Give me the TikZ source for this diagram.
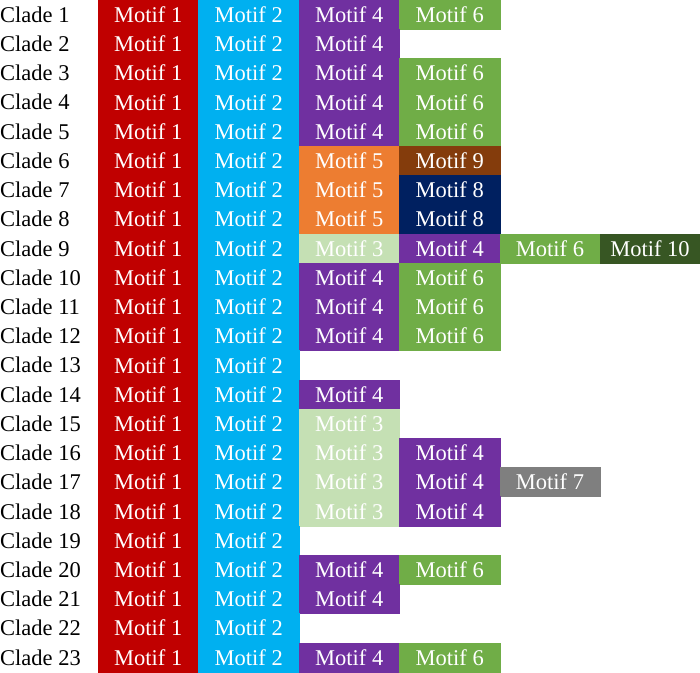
\documentclass[tikz,border=0pt]{standalone}
\usepackage{fontspec}
\setmainfont{Liberation Serif}
\definecolor{m1}{HTML}{C00000}
\definecolor{m2}{HTML}{00B0F0}
\definecolor{m3}{HTML}{C5E0B4}
\definecolor{m4}{HTML}{7030A0}
\definecolor{m5}{HTML}{ED7D31}
\definecolor{m6}{HTML}{70AD47}
\definecolor{m7}{HTML}{7F7F7F}
\definecolor{m8}{HTML}{002060}
\definecolor{m9}{HTML}{843C0C}
\definecolor{m10}{HTML}{375623}
\begin{document}
\begin{tikzpicture}[x=1pt,y=-1pt,
  motifcell/.style={rectangle, inner sep=0pt, text=white, line width=0.4pt,
    font=\fontsize{22.5}{25}\selectfont},
  cladelabel/.style={anchor=west, inner sep=0pt, text=black,
    font=\fontsize{22.5}{25}\selectfont}]
\useasboundingbox (0,0) rectangle (700,672);
\def\rowh{29.217}
\foreach \r/\lst in {1/{1,2,4,6},2/{1,2,4},3/{1,2,4,6},4/{1,2,4,6},5/{1,2,4,6},
  6/{1,2,5,9},7/{1,2,5,8},8/{1,2,5,8},9/{1,2,3,4,6,10},10/{1,2,4,6},
  11/{1,2,4,6},12/{1,2,4,6},13/{1,2},14/{1,2,4},15/{1,2,3},16/{1,2,3,4},
  17/{1,2,3,4,7},18/{1,2,3,4},19/{1,2},20/{1,2,4,6},21/{1,2,4},22/{1,2},
  23/{1,2,4,6}}{
  \pgfmathsetmacro{\yc}{(\r-0.5)*\rowh}
  \node[cladelabel] (l\r) at (0,\yc) {Clade \r};
  \foreach \m [count=\c] in \lst {
    \pgfmathsetmacro{\xl}{{98,198.5,299,399.5,500,600}[\c-1]}
    \pgfmathsetmacro{\xr}{{198.5,299,399.5,500,600,700}[\c-1]}
    \pgfmathsetmacro{\xc}{(\xl+\xr)/2}
    \pgfmathsetmacro{\w}{\xr-\xl}
    \node[motifcell, fill=m\m, draw=m\m, minimum width=\w pt,
      minimum height=\rowh pt] (r\r c\c) at (\xc,\yc) {Motif \m};
  }
}
\end{tikzpicture}
\end{document}
